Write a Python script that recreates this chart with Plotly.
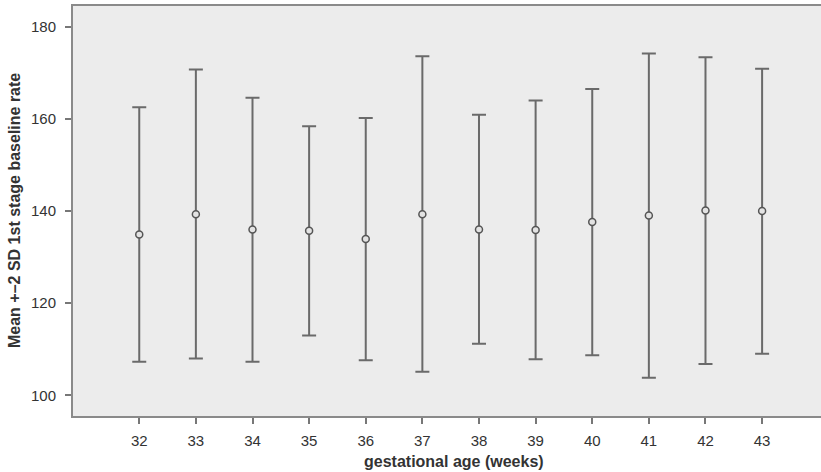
import plotly.graph_objects as go

weeks = [32, 33, 34, 35, 36, 37, 38, 39, 40, 41, 42, 43]
upper = [162.5, 170.7, 164.6, 158.4, 160.2, 173.6, 160.9, 164.0, 166.5, 174.2, 173.4, 170.9]
lower = [107.3, 108.0, 107.3, 113.0, 107.6, 105.1, 111.2, 107.8, 108.7, 103.8, 106.8, 109.0]
means = [134.9, 139.3, 136.0, 135.7, 133.9, 139.3, 136.0, 135.9, 137.6, 139.0, 140.1, 140.0]
y_ticks = [100, 120, 140, 160, 180]

err_plus = [u - m for u, m in zip(upper, means)]
err_minus = [m - l for m, l in zip(means, lower)]

fig = go.Figure()
fig.add_trace(go.Scatter(
    x=weeks, y=means, mode="markers",
    marker=dict(symbol="circle", size=7, color="#e3e3e3",
                line=dict(color="#555555", width=1.5)),
    error_y=dict(type="data", symmetric=False, array=err_plus, arrayminus=err_minus,
                 color="#6a6a6a", thickness=2, width=7),
    showlegend=False,
))

font = "Liberation Sans, Arial, sans-serif"
fig.update_layout(
    width=821, height=472,
    margin=dict(l=73, r=0, t=6, b=56, autoexpand=False),
    paper_bgcolor="white", plot_bgcolor="#ececec",
    font=dict(family=font, size=15, color="#333333"),
    xaxis=dict(
        range=[30.83, 44.04], tickmode="array", tickvals=weeks,
        ticktext=[str(w) for w in weeks],
        showgrid=False, zeroline=False, automargin=False,
        showline=True, linecolor="#8a8a8a", linewidth=2, mirror=True,
        ticks="outside", ticklen=6, tickcolor="#777777", tickwidth=2,
        ticklabelstandoff=4,
        tickfont=dict(size=15, color="#333333"),
    ),
    yaxis=dict(
        range=[95.5, 184.5], tickmode="array", tickvals=y_ticks,
        ticktext=[str(v) for v in y_ticks],
        showgrid=False, zeroline=False, automargin=False,
        showline=True, linecolor="#8a8a8a", linewidth=2, mirror=False,
        ticks="outside", ticklen=6, tickcolor="#777777", tickwidth=2,
        ticklabelstandoff=6,
        tickfont=dict(size=15, color="#333333"),
    ),
    annotations=[
        dict(text="<b>gestational age (weeks)</b>", xref="paper", yref="paper",
             x=0.509, y=-0.1106, xanchor="center", yanchor="middle", showarrow=False,
             font=dict(size=16, color="#333333", family=font)),
        dict(text="<b>Mean +\u20132 SD 1st stage baseline rate</b>", xref="paper", yref="paper",
             x=-59 / 748, y=0.5, xanchor="center", yanchor="middle", textangle=-90,
             showarrow=False, font=dict(size=16, color="#333333", family=font)),
    ],
)

fig.write_html("out.html", config={"displayModeBar": False},
               post_script="document.body.style.margin='0';document.body.style.overflow='hidden';")
